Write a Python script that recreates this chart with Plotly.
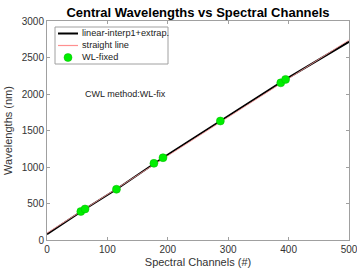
import plotly.graph_objects as go

# WL-fixed points
fixed_ch = [56, 63, 115, 177, 192, 287, 387, 395]
fixed_wl = [390, 425, 695, 1050, 1127, 1630, 2153, 2200]

# linear-interp1 + extrapolation (through the fixed points, extended to 0 and 500)
interp_ch = [0] + fixed_ch + [500]
interp_wl = [80] + fixed_wl + [2716]

# straight line fit
line_ch = [0, 500]
line_wl = [95, 2740]

legend_labels = ["linear-interp1+extrap.", "straight line", "WL-fixed"]

font = "Liberation Sans, Arial, sans-serif"
W, H = 357, 274
L, R, T, B = 47, 8, 21, 34
pw, ph = W - L - R, H - T - B

def px(xp):  # pixel -> paper x
    return (xp - L) / pw

def py(yp):  # pixel -> paper y
    return 1 - (yp - T) / ph

fig = go.Figure()
fig.add_trace(go.Scatter(x=interp_ch, y=interp_wl, mode="lines",
                         line=dict(color="black", width=2), name=legend_labels[0]))
fig.add_trace(go.Scatter(x=line_ch, y=line_wl, mode="lines",
                         line=dict(color="#ff9f9f", width=1), name=legend_labels[1], opacity=0.8))
fig.add_trace(go.Scatter(x=fixed_ch, y=fixed_wl, mode="markers",
                         marker=dict(color="#00ee00", size=8, line=dict(color="#00bb00", width=0.5)),
                         name=legend_labels[2]))

axis_common = dict(showgrid=False, zeroline=False, showline=True, linecolor="#a0a0a0",
                   linewidth=1, mirror="ticks", ticks="inside", ticklen=3, automargin=False,
                   ticklabeloverflow="allow",
                   tickcolor="#a0a0a0", tickfont=dict(size=10, color="#333333", family=font))

# custom legend (box + sample marks + labels)
box = dict(x0=px(55), x1=px(168), y0=py(64), y1=py(27))
shapes = [dict(type="rect", xref="paper", yref="paper", **box,
               line=dict(color="#a0a0a0", width=1), fillcolor="white", layer="above")]
rows = [33.5, 45.5, 57.5]
shapes.append(dict(type="line", xref="paper", yref="paper", x0=px(58), x1=px(78),
                   y0=py(rows[0]), y1=py(rows[0]), line=dict(color="black", width=2), layer="above"))
shapes.append(dict(type="line", xref="paper", yref="paper", x0=px(58), x1=px(78),
                   y0=py(rows[1]), y1=py(rows[1]), line=dict(color="#ff9090", width=1.2), layer="above"))
shapes.append(dict(type="circle", xref="paper", yref="paper", x0=px(64), x1=px(72),
                   y0=py(rows[2] + 4), y1=py(rows[2] - 4),
                   line=dict(color="#00bb00", width=0.5), fillcolor="#00ee00", layer="above"))
annotations = [dict(x=px(80), y=py(r), xref="paper", yref="paper", text=t, showarrow=False,
                    xanchor="left", yanchor="middle",
                    font=dict(size=9.2, color="#222222", family=font))
               for r, t in zip(rows, legend_labels)]
annotations.append(dict(x=60, y=2000, xref="x", yref="y", text="CWL method:WL-fix",
                        showarrow=False, xanchor="left", yanchor="middle",
                        font=dict(size=9, color="#222222", family=font)))

fig.update_layout(
    width=W, height=H,
    margin=dict(l=L, r=R, t=T, b=B),
    paper_bgcolor="white", plot_bgcolor="white",
    font=dict(family=font, color="#333333"),
    showlegend=False,
    title=dict(text="<b>Central Wavelengths vs Spectral Channels</b>",
               x=(L + W - R) / 2 / W, xanchor="center", y=1 - 12 / H, yanchor="middle",
               font=dict(size=13, color="black", family=font)),
    xaxis=dict(range=[0, 500], tickvals=[0, 100, 200, 300, 400, 500],
               title=dict(text="Spectral Channels (#)", font=dict(size=11, color="#333333"), standoff=4),
               **axis_common),
    yaxis=dict(range=[0, 3000], tickvals=[0, 500, 1000, 1500, 2000, 2500, 3000],
               title=dict(text="Wavelengths (nm)", font=dict(size=11, color="#333333"), standoff=6),
               **axis_common),
    shapes=shapes,
    annotations=annotations,
)

fig.write_html("out.html", config={"displayModeBar": False},
               post_script="document.body.style.margin='0';document.body.style.overflow='hidden';")
